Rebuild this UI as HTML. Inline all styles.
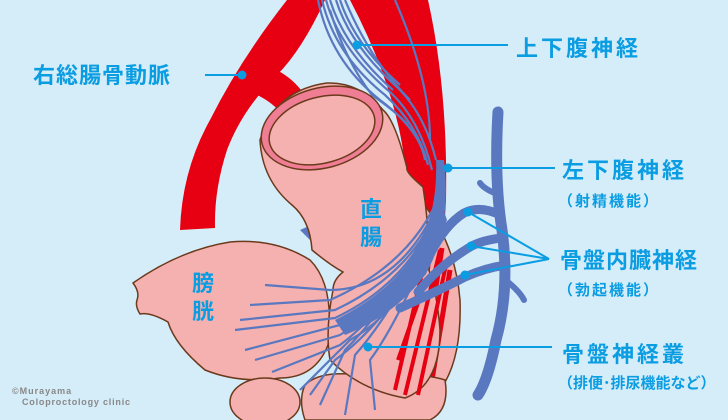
<!DOCTYPE html>
<html><head><meta charset="utf-8"><style>
html,body{margin:0;padding:0;background:#d5ecf9;}
svg{display:block;}
.t{font-family:"Liberation Sans","Noto Sans CJK JP",sans-serif;fill:#0a9de2;font-weight:bold;}
</style></head><body>
<svg width="728" height="420" viewBox="0 0 728 420" xmlns="http://www.w3.org/2000/svg">
<rect width="728" height="420" fill="#d5ecf9"/>
<!-- right red vessel -->
<path d="M350 0 L428 0 Q448 90 446 200 L440 300 Q420 360 398 395 L385 395 Q400 330 408 260 Q410 200 403 150 Q392 80 350 0 Z" fill="#e60012"/>
<!-- right-side pink bulge behind -->
<path d="M420 200 Q455 240 460 300 Q462 360 440 390 L400 400 L395 300 Z" fill="#f5b1b0" stroke="#6b3a1c" stroke-width="1.5"/>
<path d="M422 225 L405 360 M432 235 L412 385 M442 248 L420 388 M415 260 L400 345 M450 270 L432 380" stroke="#e60012" stroke-width="5"/>
<!-- left artery -->
<path d="M287 0 L325 0 Q302 50 277 75 Q242 110 227 150 Q214 190 215 228 L180 230 Q182 170 210 120 Q240 60 287 0 Z" fill="#e60012"/>
<path d="M255 62 Q295 72 310 105 L280 112 Q268 98 245 90 Z" fill="#e60012"/>
<!-- superior hypogastric nerves -->
<g stroke="#5a78c0" fill="none" stroke-width="2.2">
<path d="M318 0 Q330 60 380 100 Q420 130 425 160"/>
<path d="M322 0 Q335 55 385 95 Q418 125 428 165"/>
<path d="M326 0 Q340 50 390 92 Q420 120 432 170"/>
<path d="M330 0 Q345 48 393 90"/>
<path d="M336 0 Q350 45 398 88 Q425 115 436 160"/>
<path d="M340 0 Q355 45 400 85"/>
<path d="M330 10 Q345 60 372 95 Q400 115 408 125"/>
<path d="M345 0 Q370 60 410 100"/>
<path d="M395 0 Q430 80 430 140"/>
</g>
<path d="M300 230 Q330 215 345 240 L330 260 Z" fill="#5a78c0"/>
<!-- bladder -->
<path d="M133 283 Q180 250 230 242 Q275 238 310 260 Q335 285 328 345 Q315 378 280 378 Q240 384 205 370 Q175 345 168 322 Q150 312 140 314 Q135 306 137 300 Q140 292 133 283 Z" fill="#f5b1b0" stroke="#6b3a1c" stroke-width="1.5"/>
<ellipse cx="265" cy="402" rx="35" ry="24" fill="#f5b1b0" stroke="#6b3a1c" stroke-width="1.5"/>
<!-- lower rectum / prostate -->
<path d="M305 385 Q320 370 360 375 Q420 372 445 380 Q450 410 430 420 L305 420 Q298 400 305 385 Z" fill="#f5b1b0" stroke="#6b3a1c" stroke-width="1.5"/>
<!-- rectum -->
<path d="M260 140 Q262 180 292 205 Q310 220 312 250 Q330 265 343 272 Q333 280 333 290 Q325 330 330 360 Q360 390 405 398 Q440 385 440 330 Q437 290 427 265 Q430 230 423 187 Q405 172 407 168 Q395 120 383 110 Q360 82 327 83 Q275 90 260 140 Z" fill="#f5b1b0" stroke="#6b3a1c" stroke-width="1.5"/>
<ellipse cx="322" cy="128" rx="62" ry="40" transform="rotate(-15 322 128)" fill="#ef7d93" stroke="#6b3a1c" stroke-width="1.5"/>
<ellipse cx="322" cy="130" rx="54" ry="33" transform="rotate(-15 322 130)" fill="#f5b1b0" stroke="#6b3a1c" stroke-width="1.5"/>
<!-- red fibers over -->
<path d="M432 230 L395 390 M440 250 L405 395 M426 280 L398 360 M446 265 L418 395" stroke="#e60012" stroke-width="4"/>
<!-- nerve plexus fan -->
<g stroke="#5a78c0" fill="none" stroke-width="2.2">
<path d="M445 180 Q420 260 330 300 L250 305"/>
<path d="M445 190 Q420 270 335 310 L240 320"/>
<path d="M440 200 Q415 280 335 318 L235 330"/>
<path d="M438 205 Q410 290 340 325 L245 350"/>
<path d="M436 210 Q405 295 340 335 L255 360"/>
<path d="M432 215 Q400 300 340 345 L272 372"/>
<path d="M440 200 Q400 290 330 290 L265 285"/>
<path d="M440 210 Q395 300 345 350 L320 405"/>
<path d="M440 215 Q395 310 355 355 L345 415"/>
<path d="M440 220 Q400 320 370 360 L375 410"/>
<path d="M430 240 Q390 320 335 360 L310 395"/>
<path d="M438 225 Q405 310 350 340 L300 390"/>
</g>
<path d="M444 160 Q452 230 425 275 Q395 315 345 335 L335 320 Q392 292 418 248 Q438 210 436 160 Z" fill="#5a78c0"/>
<path d="M440 200 Q420 260 375 300 L365 318 Q420 285 447 220 Z" fill="#5a78c0"/>
<!-- pelvic splanchnic nerves + sacral trunk -->
<g fill="none" stroke="#5a78c0" stroke-linecap="round">
<path d="M498 112 Q494 180 502 230 Q510 290 496 340 Q488 380 478 395" stroke-width="11"/>
<path d="M500 215 Q480 205 464 213 Q440 228 422 272" stroke-width="9"/>
<path d="M502 238 Q482 240 470 247 Q440 265 418 292" stroke-width="9"/>
<path d="M506 265 Q485 268 465 277 Q440 290 400 308" stroke-width="9"/>
<path d="M500 195 Q485 190 480 183" stroke-width="6"/>
<path d="M508 282 Q520 292 524 300" stroke-width="6"/>
</g>
<!-- leader lines -->
<g stroke="#0a9de2" stroke-width="2" fill="#0a9de2">
<line x1="205" y1="75" x2="242" y2="75"/><circle cx="242" cy="75" r="3.5"/>
<line x1="357" y1="45" x2="508" y2="45"/><circle cx="357" cy="45" r="3.5"/>
<line x1="448" y1="168" x2="555" y2="168"/><circle cx="448" cy="168" r="3.5"/>
<line x1="468" y1="212" x2="549" y2="259"/><circle cx="468" cy="212" r="3.5"/>
<line x1="471" y1="246" x2="549" y2="259"/><circle cx="471" cy="246" r="3.5"/>
<line x1="465" y1="275" x2="549" y2="259"/><circle cx="465" cy="275" r="3.5"/>
<line x1="368" y1="347" x2="552" y2="347"/><circle cx="368" cy="347" r="3.5"/>
</g>
<!-- labels -->
<text class="t" x="33" y="83" font-size="22" letter-spacing="1">右総腸骨動脈</text>
<text class="t" x="516" y="56" font-size="22" letter-spacing="3">上下腹神経</text>
<text class="t" x="562" y="178" font-size="22" letter-spacing="3">左下腹神経</text>
<text class="t" x="558" y="206" font-size="15" letter-spacing="2">（射精機能）</text>
<text class="t" x="560" y="268" font-size="22" letter-spacing="1">骨盤内臓神経</text>
<text class="t" x="558" y="295" font-size="15" letter-spacing="2">（勃起機能）</text>
<text class="t" x="562" y="362" font-size="22" letter-spacing="3">骨盤神経叢</text>
<text class="t" x="558" y="388" font-size="15">（排便･排尿機能など）</text>
<text class="t" x="360" y="217" font-size="22">直</text>
<text class="t" x="360" y="245" font-size="22">腸</text>
<text class="t" x="192" y="291" font-size="22">膀</text>
<text class="t" x="192" y="319" font-size="22">胱</text>
<text x="12" y="394" font-family="Liberation Sans, sans-serif" font-size="9" font-weight="bold" fill="#888" letter-spacing="1">©Murayama</text>
<text x="22" y="405" font-family="Liberation Sans, sans-serif" font-size="9" font-weight="bold" fill="#888" letter-spacing="0.8">Coloproctology clinic</text>
</svg>
</body></html>
